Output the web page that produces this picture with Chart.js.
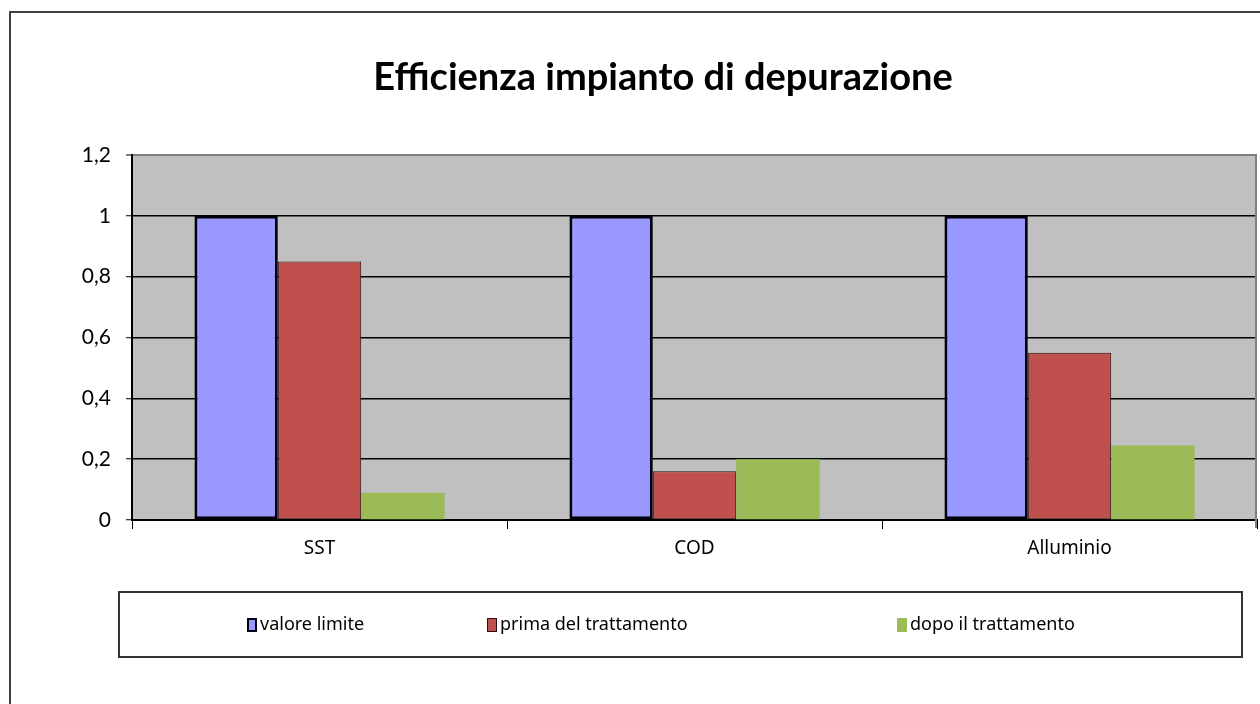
<!DOCTYPE html>
<html>
<head>
<meta charset="utf-8">
<script src="https://cdn.jsdelivr.net/npm/chart.js@4.4.1/dist/chart.umd.min.js"></script>
<style>
  html, body { margin: 0; padding: 0; background: #ffffff; }
  #wrap { width: 1260px; height: 704px; position: relative; }
</style>
</head>
<body>
<div id="wrap"><canvas id="c" width="1260" height="704"></canvas></div>
<script>
const chartTitle = 'Efficienza impianto di depurazione';
const categories = ['SST', 'COD', 'Alluminio'];
const seriesNames = ['valore limite', 'prima del trattamento', 'dopo il trattamento'];
const valoreLimite = [1, 1, 1];
const primaTrattamento = [0.85, 0.16, 0.55];
const dopoTrattamento = [0.09, 0.2, 0.245];
const yTickValues = [0, 0.2, 0.4, 0.6, 0.8, 1, 1.2];
const yTickLabels = ['0', '0,2', '0,4', '0,6', '0,8', '1', '1,2'];

const BLUE = '#9999FF', RED = '#C0504D', GREEN = '#9BBB59';

const decorPlugin = {
  id: 'decor',
  beforeDraw(chart) {
    const ctx = chart.ctx, a = chart.chartArea;
    ctx.save();
    ctx.fillStyle = '#ffffff';
    ctx.fillRect(0, 0, chart.width, chart.height);
    // outer frame
    ctx.strokeStyle = '#404040';
    ctx.lineWidth = 2;
    ctx.beginPath();
    ctx.moveTo(10, chart.height + 2);
    ctx.lineTo(10, 12);
    ctx.lineTo(chart.width + 2, 12);
    ctx.stroke();
    // plot background
    ctx.fillStyle = '#C0C0C0';
    ctx.fillRect(a.left, a.top, a.right - a.left, a.bottom - a.top);
    ctx.restore();
  },
  afterDraw(chart) {
    const ctx = chart.ctx, a = chart.chartArea;
    ctx.save();
    // right border of plot area
    ctx.strokeStyle = '#808080';
    ctx.lineWidth = 2;
    ctx.beginPath();
    ctx.moveTo(a.right - 1, a.top);
    ctx.lineTo(a.right - 1, a.bottom + 8);
    ctx.stroke();
    // title
    ctx.fillStyle = '#000000';
    ctx.font = 'bold 38px Lato';
    ctx.textAlign = 'center';
    ctx.textBaseline = 'middle';
    ctx.fillText(chartTitle, 663, 78);
    // legend box
    ctx.strokeStyle = '#333333';
    ctx.lineWidth = 2;
    ctx.strokeRect(119, 592, 1123, 65);
    const xs = [247, 487, 897];
    ctx.font = '18px "Noto Sans"';
    ctx.textAlign = 'left';
    chart.data.datasets.forEach((ds, i) => {
      const x = xs[i], y = 618;
      ctx.fillStyle = ds.backgroundColor;
      ctx.fillRect(x, y, 10, 14);
      if (ds.borderWidth > 0) {
        ctx.strokeStyle = ds.borderColor;
        ctx.lineWidth = Math.min(ds.borderWidth, 2);
        const h = ctx.lineWidth / 2;
        ctx.strokeRect(x + h, y + h, 10 - ctx.lineWidth, 14 - ctx.lineWidth);
      }
      ctx.fillStyle = '#000000';
      ctx.fillText(ds.label, x + 13, 625);
    });
    ctx.restore();
  }
};

new Chart(document.getElementById('c'), {
  type: 'bar',
  data: {
    labels: categories,
    datasets: [
      { label: seriesNames[0], data: valoreLimite, backgroundColor: BLUE, borderColor: '#000010', borderWidth: 3, borderSkipped: false },
      { label: seriesNames[1], data: primaTrattamento, backgroundColor: RED, borderColor: '#2a1010', borderWidth: 1, borderSkipped: false },
      { label: seriesNames[2], data: dopoTrattamento, backgroundColor: GREEN, borderWidth: 0 }
    ]
  },
  options: {
    responsive: false,
    animation: false,
    devicePixelRatio: 1,
    layout: { padding: { left: 72, right: 3, top: 155, bottom: 124 } },
    datasets: { bar: { categoryPercentage: 0.667, barPercentage: 1.0 } },
    plugins: {
      legend: { display: false },
      title: { display: false },
      tooltip: { enabled: false }
    },
    scales: {
      x: {
        offset: true,
        afterFit(scale) { scale.height = 60; },
        grid: { offset: true, drawOnChartArea: false, drawTicks: true, tickLength: 9, color: '#000000', tickColor: '#000000', tickWidth: 1 },
        border: { display: true, color: '#000000', width: 2 },
        ticks: { color: '#000000', padding: 8, font: { family: '"Noto Sans"', size: 19 } }
      },
      y: {
        min: 0, max: 1.2,
        afterFit(scale) { scale.width = 60; },
        afterBuildTicks(scale) { scale.ticks = yTickValues.map(v => ({ value: v })); },
        grid: {
          color: ctx => (ctx.tick && ctx.tick.value === 1.2) ? '#808080' : '#000000',
          lineWidth: ctx => (ctx.tick && ctx.tick.value === 1.2) ? 2 : 1.5,
          tickLength: 6, tickColor: '#000000', tickWidth: 1
        },
        border: { display: true, color: '#000000', width: 2 },
        ticks: {
          color: '#000000', padding: 15,
          font: { family: 'Lato', size: 21 },
          callback: (v) => { const i = yTickValues.findIndex(t => Math.abs(t - v) < 1e-9); return i >= 0 ? yTickLabels[i] : ''; }
        }
      }
    }
  },
  plugins: [decorPlugin]
});
</script>
</body>
</html>
